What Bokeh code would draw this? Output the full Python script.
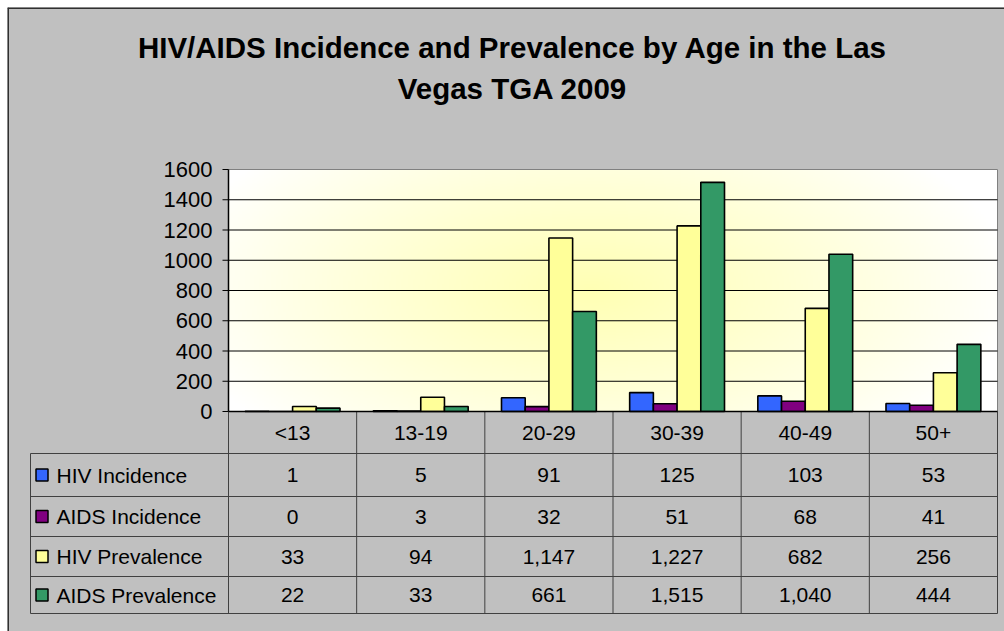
import numpy as np
from bokeh.plotting import figure
from bokeh.models import ColumnDataSource, Range1d
from bokeh.transform import dodge
from bokeh.embed import file_html
from bokeh.resources import INLINE
from bokeh.core.properties import value

# ---------------- data ----------------
categories = ["<13", "13-19", "20-29", "30-39", "40-49", "50+"]
series_names = ["HIV Incidence", "AIDS Incidence", "HIV Prevalence", "AIDS Prevalence"]
hiv_incidence = [1, 5, 91, 125, 103, 53]
aids_incidence = [0, 3, 32, 51, 68, 41]
hiv_prevalence = [33, 94, 1147, 1227, 682, 256]
aids_prevalence = [22, 33, 661, 1515, 1040, 444]
y_ticks = [0, 200, 400, 600, 800, 1000, 1200, 1400, 1600]
title_lines = ["HIV/AIDS Incidence and Prevalence by Age in the Las", "Vegas TGA 2009"]

series_values = [hiv_incidence, aids_incidence, hiv_prevalence, aids_prevalence]

# ---------------- style / layout ----------------
colors = ["#3366FF", "#800080", "#FFFF99", "#339966"]
FONT = "Liberation Sans"
BG = "#C0C0C0"
LINE = "#404040"
n = len(categories)
y_max = y_ticks[-1]

W, H = 997, 624                  # canvas size (placed at 7,7)
PLOT_L, PLOT_R = 221, 990        # plot area in canvas px
PLOT_T, PLOT_B = 162, 404
u = (PLOT_R - PLOT_L) / n        # px per category
k = (PLOT_B - PLOT_T) / y_max    # px per value unit
x_start = -0.5 - PLOT_L / u
x_end = x_start + W / u
y_top = PLOT_B / k
y_bot = y_top - H / k

p = figure(x_range=Range1d(x_start, x_end), y_range=Range1d(y_bot, y_top),
           width=W, height=H, output_backend="svg", toolbar_location=None,
           x_axis_location=None, y_axis_location=None,
           min_border=0, min_border_left=0, min_border_right=0,
           min_border_top=0, min_border_bottom=0,
           border_fill_color=BG, background_fill_color=BG, outline_line_color=None,
           margin=(7, 0, 0, 7))
p.xgrid.visible = False
p.ygrid.visible = False

# outer chart border (left / top)
p.segment(x0=[x_start, x_start], y0=[y_bot, y_top], x1=[x_start, x_end], y1=[y_top, y_top],
          line_color="#303030", line_width=3)

# plot area with a soft yellow gradient
ny, nx = 160, 320
yy, xx = np.mgrid[0:1:ny * 1j, 0:1:nx * 1j]
d = np.sqrt(((xx - 0.47) / 0.55) ** 2 + ((yy - 0.5) / 0.85) ** 2)
tt = np.clip(1 - d, 0, 1) ** 0.9
img = np.empty((ny, nx), dtype=np.uint32)
view = img.view(dtype=np.uint8).reshape((ny, nx, 4))
view[..., 0] = 255
view[..., 1] = 255
view[..., 2] = (255 - 75 * tt).astype(np.uint8)
view[..., 3] = 255
p.image_rgba(image=[img], x=-0.5, y=0, dw=n, dh=y_max)
p.quad(left=[-0.5], right=[n - 0.5], bottom=[0], top=[y_max], fill_color=None,
       line_color="#808080", line_width=1)

# gridlines
grid = [t for t in y_ticks if 0 < t < y_max]
p.segment(x0=[-0.5] * len(grid), y0=grid, x1=[n - 0.5] * len(grid), y1=grid,
          line_color="black", line_width=1)

# y axis (line, ticks, labels)
p.segment(x0=[-0.5], y0=[0], x1=[-0.5], y1=[y_max], line_color="black", line_width=1.5)
p.segment(x0=[-0.5 - 6 / u] * len(y_ticks), y0=y_ticks, x1=[-0.5] * len(y_ticks), y1=y_ticks,
          line_color="black", line_width=1)
p.text(x=[-0.5] * len(y_ticks), y=y_ticks, text=[str(t) for t in y_ticks], x_offset=-16,
       text_align="right", text_baseline="middle", text_font=value(FONT),
       text_font_size="22px", text_color="black")

# bars
src = ColumnDataSource(dict(idx=list(range(n)), **{f"s{i}": v for i, v in enumerate(series_values)}))
bw = 0.185
offsets = [(-1.5 + i) * bw for i in range(4)]
for i in range(4):
    p.vbar(x=dodge("idx", offsets[i]), top=f"s{i}", bottom=0, width=bw, source=src,
           fill_color=colors[i], line_color="black", line_width=1.6)

# title
title_px = [40, 81]              # vertical centres in canvas px
title_cx = 505                   # horizontal centre in canvas px
p.text(x=[x_start + title_cx / u] * 2, y=[y_top - t / k for t in title_px], text=title_lines,
       text_align="center", text_baseline="middle", text_font=value(FONT),
       text_font_style="bold", text_font_size="29.5px", text_color="black")

# ---------------- data table ----------------
row_px = [42, 43, 40, 40, 37]
bounds = [0.0]
for r in row_px:
    bounds.append(bounds[-1] - r / k)
centers = [(bounds[j] + bounds[j + 1]) / 2 for j in range(len(row_px))]
left = -0.5 - 198 / u
right = n - 0.5

# horizontal lines
p.segment(x0=[left] * 5, y0=bounds[1:], x1=[right] * 5, y1=bounds[1:],
          line_color=LINE, line_width=1)
# vertical lines
vx = [-0.5 + j for j in range(n + 1)]
p.segment(x0=vx, y0=[bounds[0]] * len(vx), x1=vx, y1=[bounds[-1]] * len(vx),
          line_color=LINE, line_width=1)
p.segment(x0=[left], y0=[bounds[1]], x1=[left], y1=[bounds[-1]], line_color=LINE, line_width=1)
# x axis line (top of table)
p.segment(x0=[-0.5], y0=[0], x1=[right], y1=[0], line_color="black", line_width=1.5)

xs = list(range(n))
p.text(x=xs, y=[centers[0]] * n, text=categories, text_align="center", text_baseline="middle",
       text_font=value(FONT), text_font_size="21px", text_color="black")
for i, vals in enumerate(series_values):
    p.text(x=xs, y=[centers[i + 1]] * n, text=[f"{v:,}" for v in vals], text_align="center",
           text_baseline="middle", text_font=value(FONT), text_font_size="21px",
           text_color="black")
ly = centers[1:]
p.scatter(x=[left + 11.5 / u] * 4, y=ly, marker="square", size=12,
          fill_color=colors, line_color="black", line_width=1.5)
p.text(x=[left + 26 / u] * 4, y=ly, text=series_names, text_align="left",
       text_baseline="middle", text_font=value(FONT), text_font_size="21px",
       text_color="black")

open("out.html", "w").write(file_html(p, INLINE))
